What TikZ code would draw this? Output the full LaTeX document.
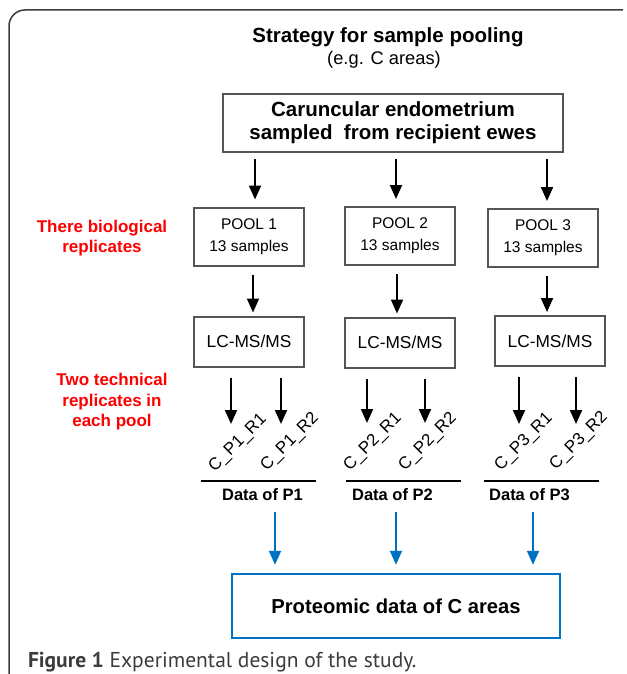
\documentclass[tikz,border=0pt]{standalone}
\usepackage{fontspec}
\setmainfont{Liberation Sans}
\newfontfamily\capfont{PT Sans}
\usetikzlibrary{arrows.meta}
\definecolor{boxgray}{RGB}{85,85,85}
\definecolor{datablue}{RGB}{0,112,192}
\definecolor{labelred}{RGB}{255,0,0}
\definecolor{framegray}{RGB}{60,60,60}

\begin{document}
\begin{tikzpicture}[x=1pt,y=-1pt,->,>={Triangle[width=12pt,length=14pt]},line width=2pt,
				main box/.style={draw=boxgray,line width=2pt,align=center,inner sep=0pt,minimum width=110pt},
				red note/.style={text=labelred,align=center,font=\fontsize{17}{20.5}\selectfont\bfseries},
				run label/.style={rotate=45,inner sep=0pt,font=\fontsize{17}{17}\selectfont},
				data label/.style={inner sep=0pt,font=\fontsize{16.5}{16.5}\selectfont\bfseries}]
				
				\useasboundingbox (0,0) rectangle (626,674);
				\draw[-,framegray,line width=1.5pt,rounded corners=16pt] (9,674) -- (9,10) -- (623,10);
				
				% title
				\node (title) at (388,37) {\fontsize{20.5}{20.5}\selectfont\bfseries Strategy for sample pooling};
				\node (sub) at (384,60) {\fontsize{18.3}{18.3}\selectfont (e.g. C areas)};
				
				\node[main box,minimum width=340pt,minimum height=58pt,font=\fontsize{20.5}{23}\selectfont\bfseries] (top) at (393,123) {Caruncular endometrium\\sampled~ from recipient ewes};
				
				% pools
				\node[main box,minimum height=58pt,font=\fontsize{15.5}{22}\selectfont] (pool1) at (249,236.5) {POOL 1\\13 samples};
				\node[main box,minimum height=58pt,font=\fontsize{15.5}{22}\selectfont] (pool2) at (400,236) {POOL 2\\13 samples};
				\node[main box,minimum height=58pt,font=\fontsize{15.5}{22}\selectfont] (pool3) at (543,238) {POOL 3\\13 samples};
				
				\node[main box,minimum height=50pt,font=\fontsize{17.3}{17.3}\selectfont] (lc1) at (249,341.5) {LC-MS/MS};
				\node[main box,minimum height=50pt,font=\fontsize{17.3}{17.3}\selectfont] (lc2) at (400,342.5) {LC-MS/MS};
				\node[main box,minimum height=50pt,font=\fontsize{17.3}{17.3}\selectfont] (lc3) at (550,341) {LC-MS/MS};
				
				\node[red note] (bio) at (102,238) {There biological\\replicates};
				\node[red note] (tech) at (112,402) {Two technical\\replicates in\\each pool};
				
				% runs
				\node[run label] (p1r1) at (238,443) {C\_P1\_R1};
				\node[run label] (p1r2) at (290,442) {C\_P1\_R2};
				\node[run label] (p2r1) at (373,442) {C\_P2\_R1};
				\node[run label] (p2r2) at (428,442) {C\_P2\_R2};
				\node[run label] (p3r1) at (524,442) {C\_P3\_R1};
				\node[run label] (p3r2) at (579,441) {C\_P3\_R2};
				
				\node[data label] (d1) at (262.5,495) {Data of P1};
				\node[data label] (d2) at (392.5,495) {Data of P2};
				\node[data label] (d3) at (529.5,495) {Data of P3};
				\draw[-] (202,481 -| d1.west) ++(-20,0) -- ++(115,0);
				\draw[-] (202,481 -| d2.west) ++(-5,0) -- ++(115,0);
				\draw[-] (202,481 -| d3.west) ++(-4,0) -- ++(115,0);
				
				\node[main box,draw=datablue,line width=2.5pt,minimum width=328pt,minimum height=64pt,font=\fontsize{20.2}{20.2}\selectfont\bfseries] (res) at (396,606) {Proteomic data of C areas};
				
				\node[anchor=base west,inner sep=0pt,text=framegray,font=\capfont\fontsize{21.5}{21.5}\selectfont] (cap) at (27,667) {\textbf{Figure 1} Experimental design of the study.};
				
				\path[shorten <=6pt,shorten >=7pt]
				(255,0 |- top.south) edge (255,0 |- pool1.north)
				(396,0 |- top.south) edge (396,0 |- pool2.north)
				(547,0 |- top.south) edge (547,0 |- pool3.north);
				
				\path[shorten <=8pt,shorten >=3pt]
				(253,0 |- pool1.south) edge (253,0 |- lc1.north)
				(397,0 |- pool2.south) edge (397,0 |- lc2.north)
				(547,0 |- pool3.south) edge (547,0 |- lc3.north);
				
				\path[shorten <=10pt]
				(231,0 |- lc1.south) edge (231,424)
				(281,0 |- lc1.south) edge (281,424)
				(367,0 |- lc2.south) edge (367,423)
				(425,0 |- lc2.south) edge (425,423)
				(519,0 |- lc3.south) edge (519,424)
				(576,0 |- lc3.south) edge (576,424);
				
				\path[datablue,shorten <=10pt,shorten >=8pt]
				(275,0 |- d1.south) edge (275,0 |- res.north)
				(396,0 |- d2.south) edge (396,0 |- res.north)
				(533,0 |- d3.south) edge (533,0 |- res.north);
				
\end{tikzpicture}
\end{document}
